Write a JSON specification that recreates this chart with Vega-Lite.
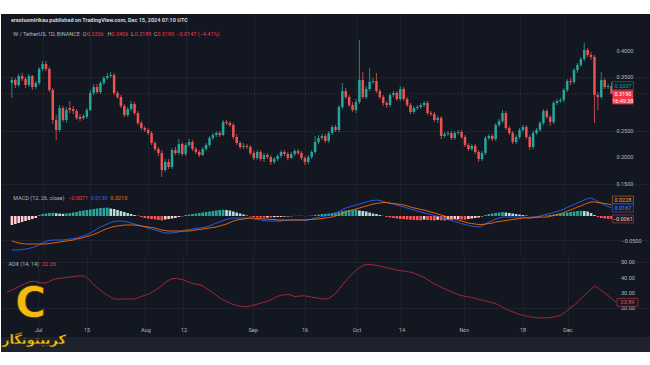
{
"$schema":"https://vega.github.io/schema/vega-lite/v6.json",
"background":"#ffffff",
"padding":{"left":0,"right":0,"top":14,"bottom":13},
"spacing":0,
"bounds":"flush",
"config":{"view":{"stroke":null,"fill":"#131722"},"axis":{"labelFont":"Roboto","labelFontSize":5.5,"labelColor":"#b2b5be","gridColor":"#1e222d","domain":false,"ticks":false,"labelOverlap":false},"text":{"font":"Roboto","fontSize":5.5,"baseline":"middle","align":"left"}},
"datasets":{"k":[
{"d":"2024-06-22","o":0.3393,"h":0.3506,"l":0.3111,"c":0.3449,"m":-0.0708,"s":-0.0521,"g":-0.0188,"t":"nu","a":30.5},
{"d":"2024-06-23","o":0.3449,"h":0.3487,"l":0.3299,"c":0.3355,"m":-0.0708,"s":-0.0542,"g":-0.0167,"t":"nu","a":31.5},
{"d":"2024-06-24","o":0.3355,"h":0.3562,"l":0.3318,"c":0.3524,"m":-0.0708,"s":-0.0563,"g":-0.0146,"t":"nu","a":32.5},
{"d":"2024-06-25","o":0.3524,"h":0.3581,"l":0.3430,"c":0.3468,"m":-0.0698,"s":-0.0573,"g":-0.0125,"t":"nu","a":33.7},
{"d":"2024-06-26","o":0.3468,"h":0.3506,"l":0.3299,"c":0.3355,"m":-0.0688,"s":-0.0583,"g":-0.0104,"t":"nu","a":34.8},
{"d":"2024-06-27","o":0.3355,"h":0.3562,"l":0.3318,"c":0.3524,"m":-0.0677,"s":-0.0583,"g":-0.0083,"t":"nu","a":35.8},
{"d":"2024-06-28","o":0.3524,"h":0.3543,"l":0.3261,"c":0.3318,"m":-0.0656,"s":-0.0583,"g":-0.0063,"t":"nu","a":36.8},
{"d":"2024-06-29","o":0.3318,"h":0.3430,"l":0.3280,"c":0.3393,"m":-0.0635,"s":-0.0583,"g":-0.0042,"t":"nu","a":37.6},
{"d":"2024-06-30","o":0.3393,"h":0.3694,"l":0.3355,"c":0.3656,"m":-0.0604,"s":-0.0583,"g":0.0021,"t":"pu","a":37.5},
{"d":"2024-07-01","o":0.3656,"h":0.3806,"l":0.3618,"c":0.3750,"m":-0.0563,"s":-0.0583,"g":0.0042,"t":"pu","a":37.0},
{"d":"2024-07-02","o":0.3750,"h":0.3806,"l":0.3618,"c":0.3656,"m":-0.0531,"s":-0.0583,"g":0.0052,"t":"pu","a":36.5},
{"d":"2024-07-03","o":0.3656,"h":0.3694,"l":0.3224,"c":0.3261,"m":-0.0510,"s":-0.0573,"g":0.0063,"t":"pu","a":36.4},
{"d":"2024-07-04","o":0.3261,"h":0.3299,"l":0.2622,"c":0.2697,"m":-0.0500,"s":-0.0563,"g":0.0067,"t":"pu","a":37.2},
{"d":"2024-07-05","o":0.2697,"h":0.2791,"l":0.2321,"c":0.2509,"m":-0.0500,"s":-0.0552,"g":0.0058,"t":"pd","a":38.4},
{"d":"2024-07-06","o":0.2509,"h":0.2979,"l":0.2472,"c":0.2923,"m":-0.0500,"s":-0.0542,"g":0.0050,"t":"pd","a":39.2},
{"d":"2024-07-07","o":0.2923,"h":0.2960,"l":0.2660,"c":0.2697,"m":-0.0500,"s":-0.0531,"g":0.0046,"t":"pd","a":39.5},
{"d":"2024-07-08","o":0.2697,"h":0.2942,"l":0.2641,"c":0.2885,"m":-0.0490,"s":-0.0521,"g":0.0054,"t":"pu","a":39.8},
{"d":"2024-07-09","o":0.2923,"h":0.3054,"l":0.2829,"c":0.2885,"m":-0.0479,"s":-0.0510,"g":0.0063,"t":"pu","a":40.1},
{"d":"2024-07-10","o":0.2904,"h":0.2960,"l":0.2810,"c":0.2866,"m":-0.0469,"s":-0.0500,"g":0.0073,"t":"pu","a":40.3},
{"d":"2024-07-11","o":0.2866,"h":0.2904,"l":0.2697,"c":0.2735,"m":-0.0458,"s":-0.0479,"g":0.0083,"t":"pu","a":40.6},
{"d":"2024-07-12","o":0.2754,"h":0.2810,"l":0.2678,"c":0.2716,"m":-0.0438,"s":-0.0469,"g":0.0104,"t":"pu","a":40.9},
{"d":"2024-07-13","o":0.2735,"h":0.2810,"l":0.2697,"c":0.2772,"m":-0.0417,"s":-0.0448,"g":0.0115,"t":"pu","a":41.1},
{"d":"2024-07-14","o":0.2754,"h":0.2923,"l":0.2716,"c":0.2885,"m":-0.0385,"s":-0.0427,"g":0.0125,"t":"pu","a":41.1},
{"d":"2024-07-15","o":0.2885,"h":0.3261,"l":0.2866,"c":0.3205,"m":-0.0354,"s":-0.0406,"g":0.0135,"t":"pu","a":40.2},
{"d":"2024-07-16","o":0.3205,"h":0.3374,"l":0.3167,"c":0.3318,"m":-0.0313,"s":-0.0385,"g":0.0146,"t":"pu","a":38.0},
{"d":"2024-07-17","o":0.3318,"h":0.3374,"l":0.3186,"c":0.3224,"m":-0.0271,"s":-0.0354,"g":0.0156,"t":"pu","a":35.8},
{"d":"2024-07-18","o":0.3224,"h":0.3430,"l":0.3186,"c":0.3393,"m":-0.0229,"s":-0.0323,"g":0.0167,"t":"pu","a":33.5},
{"d":"2024-07-19","o":0.3393,"h":0.3524,"l":0.3355,"c":0.3487,"m":-0.0198,"s":-0.0292,"g":0.0171,"t":"pu","a":31.8},
{"d":"2024-07-20","o":0.3487,"h":0.3581,"l":0.3449,"c":0.3524,"m":-0.0167,"s":-0.0260,"g":0.0175,"t":"pu","a":30.1},
{"d":"2024-07-21","o":0.3524,"h":0.3600,"l":0.3487,"c":0.3543,"m":-0.0135,"s":-0.0240,"g":0.0156,"t":"pd","a":28.6},
{"d":"2024-07-22","o":0.3543,"h":0.3581,"l":0.3167,"c":0.3205,"m":-0.0115,"s":-0.0219,"g":0.0146,"t":"pd","a":27.2},
{"d":"2024-07-23","o":0.3205,"h":0.3242,"l":0.3092,"c":0.3130,"m":-0.0104,"s":-0.0208,"g":0.0125,"t":"pd","a":26.0},
{"d":"2024-07-24","o":0.3130,"h":0.3167,"l":0.2923,"c":0.2960,"m":-0.0104,"s":-0.0198,"g":0.0104,"t":"pd","a":25.9},
{"d":"2024-07-25","o":0.2960,"h":0.2998,"l":0.2754,"c":0.2791,"m":-0.0115,"s":-0.0188,"g":0.0083,"t":"pd","a":26.0},
{"d":"2024-07-26","o":0.2791,"h":0.2942,"l":0.2754,"c":0.2904,"m":-0.0125,"s":-0.0188,"g":0.0063,"t":"pd","a":26.1},
{"d":"2024-07-27","o":0.2904,"h":0.3054,"l":0.2866,"c":0.2998,"m":-0.0146,"s":-0.0188,"g":0.0042,"t":"pd","a":26.1},
{"d":"2024-07-28","o":0.2998,"h":0.3036,"l":0.2791,"c":0.2829,"m":-0.0167,"s":-0.0188,"g":0.0021,"t":"pd","a":26.0},
{"d":"2024-07-29","o":0.2829,"h":0.2866,"l":0.2603,"c":0.2641,"m":-0.0188,"s":-0.0198,"g":0.0006,"t":"pd","a":26.2},
{"d":"2024-07-30","o":0.2641,"h":0.2678,"l":0.2509,"c":0.2547,"m":-0.0208,"s":-0.0208,"g":-0.0021,"t":"nd","a":27.0},
{"d":"2024-07-31","o":0.2547,"h":0.2585,"l":0.2472,"c":0.2509,"m":-0.0229,"s":-0.0219,"g":-0.0042,"t":"nd","a":27.8},
{"d":"2024-08-01","o":0.2509,"h":0.2547,"l":0.2415,"c":0.2453,"m":-0.0250,"s":-0.0229,"g":-0.0052,"t":"nd","a":28.6},
{"d":"2024-08-02","o":0.2453,"h":0.2491,"l":0.2227,"c":0.2265,"m":-0.0271,"s":-0.0240,"g":-0.0063,"t":"nd","a":29.3},
{"d":"2024-08-03","o":0.2265,"h":0.2303,"l":0.2115,"c":0.2152,"m":-0.0292,"s":-0.0250,"g":-0.0073,"t":"nd","a":30.6},
{"d":"2024-08-04","o":0.2152,"h":0.2190,"l":0.2021,"c":0.2077,"m":-0.0313,"s":-0.0271,"g":-0.0083,"t":"nd","a":32.0},
{"d":"2024-08-05","o":0.2077,"h":0.2133,"l":0.1626,"c":0.1757,"m":-0.0333,"s":-0.0292,"g":-0.0090,"t":"nd","a":33.4},
{"d":"2024-08-06","o":0.1757,"h":0.1964,"l":0.1720,"c":0.1908,"m":-0.0354,"s":-0.0302,"g":-0.0073,"t":"nu","a":35.3},
{"d":"2024-08-07","o":0.1908,"h":0.1964,"l":0.1776,"c":0.1814,"m":-0.0354,"s":-0.0313,"g":-0.0063,"t":"nu","a":37.3},
{"d":"2024-08-08","o":0.1814,"h":0.2171,"l":0.1776,"c":0.2133,"m":-0.0354,"s":-0.0313,"g":-0.0052,"t":"nu","a":38.7},
{"d":"2024-08-09","o":0.2133,"h":0.2190,"l":0.2039,"c":0.2077,"m":-0.0344,"s":-0.0313,"g":-0.0042,"t":"nu","a":39.4},
{"d":"2024-08-10","o":0.2077,"h":0.2340,"l":0.2039,"c":0.2246,"m":-0.0333,"s":-0.0313,"g":-0.0021,"t":"nu","a":39.5},
{"d":"2024-08-11","o":0.2246,"h":0.2284,"l":0.2021,"c":0.2058,"m":-0.0313,"s":-0.0313,"g":-0.0006,"t":"nu","a":39.0},
{"d":"2024-08-12","o":0.2058,"h":0.2265,"l":0.2021,"c":0.2227,"m":-0.0292,"s":-0.0313,"g":0.0021,"t":"pu","a":38.5},
{"d":"2024-08-13","o":0.2227,"h":0.2340,"l":0.2190,"c":0.2284,"m":-0.0281,"s":-0.0313,"g":0.0031,"t":"pu","a":37.6},
{"d":"2024-08-14","o":0.2284,"h":0.2321,"l":0.2115,"c":0.2152,"m":-0.0271,"s":-0.0302,"g":0.0042,"t":"pu","a":36.6},
{"d":"2024-08-15","o":0.2152,"h":0.2190,"l":0.2058,"c":0.2096,"m":-0.0260,"s":-0.0292,"g":0.0052,"t":"pu","a":36.0},
{"d":"2024-08-16","o":0.2096,"h":0.2133,"l":0.2002,"c":0.2039,"m":-0.0250,"s":-0.0281,"g":0.0063,"t":"pu","a":35.6},
{"d":"2024-08-17","o":0.2039,"h":0.2190,"l":0.2021,"c":0.2152,"m":-0.0240,"s":-0.0271,"g":0.0073,"t":"pu","a":35.2},
{"d":"2024-08-18","o":0.2152,"h":0.2265,"l":0.2115,"c":0.2227,"m":-0.0229,"s":-0.0260,"g":0.0083,"t":"pu","a":34.0},
{"d":"2024-08-19","o":0.2227,"h":0.2397,"l":0.2190,"c":0.2359,"m":-0.0208,"s":-0.0250,"g":0.0094,"t":"pu","a":32.4},
{"d":"2024-08-20","o":0.2359,"h":0.2453,"l":0.2321,"c":0.2415,"m":-0.0177,"s":-0.0240,"g":0.0104,"t":"pu","a":31.0},
{"d":"2024-08-21","o":0.2415,"h":0.2491,"l":0.2378,"c":0.2453,"m":-0.0146,"s":-0.0229,"g":0.0115,"t":"pu","a":29.3},
{"d":"2024-08-22","o":0.2453,"h":0.2491,"l":0.2378,"c":0.2415,"m":-0.0125,"s":-0.0208,"g":0.0125,"t":"pu","a":27.6},
{"d":"2024-08-23","o":0.2415,"h":0.2697,"l":0.2397,"c":0.2660,"m":-0.0094,"s":-0.0188,"g":0.0131,"t":"pu","a":26.1},
{"d":"2024-08-24","o":0.2660,"h":0.2697,"l":0.2603,"c":0.2641,"m":-0.0073,"s":-0.0167,"g":0.0125,"t":"pd","a":25.0},
{"d":"2024-08-25","o":0.2641,"h":0.2678,"l":0.2566,"c":0.2603,"m":-0.0052,"s":-0.0135,"g":0.0115,"t":"pd","a":23.9},
{"d":"2024-08-26","o":0.2603,"h":0.2641,"l":0.2340,"c":0.2378,"m":-0.0042,"s":-0.0104,"g":0.0094,"t":"pd","a":22.8},
{"d":"2024-08-27","o":0.2378,"h":0.2434,"l":0.2227,"c":0.2265,"m":-0.0042,"s":-0.0083,"g":0.0073,"t":"pd","a":22.1},
{"d":"2024-08-28","o":0.2265,"h":0.2303,"l":0.2152,"c":0.2190,"m":-0.0042,"s":-0.0073,"g":0.0052,"t":"pd","a":21.6},
{"d":"2024-08-29","o":0.2190,"h":0.2265,"l":0.2152,"c":0.2209,"m":-0.0042,"s":-0.0063,"g":0.0031,"t":"pd","a":21.2},
{"d":"2024-08-30","o":0.2209,"h":0.2246,"l":0.2152,"c":0.2190,"m":-0.0042,"s":-0.0052,"g":0.0010,"t":"pd","a":21.0},
{"d":"2024-08-31","o":0.2190,"h":0.2227,"l":0.2039,"c":0.2077,"m":-0.0052,"s":-0.0042,"g":-0.0010,"t":"nd","a":21.4},
{"d":"2024-09-01","o":0.2077,"h":0.2115,"l":0.1945,"c":0.1983,"m":-0.0063,"s":-0.0042,"g":-0.0021,"t":"nd","a":22.0},
{"d":"2024-09-02","o":0.1983,"h":0.2133,"l":0.1945,"c":0.2096,"m":-0.0073,"s":-0.0052,"g":-0.0031,"t":"nd","a":22.5},
{"d":"2024-09-03","o":0.2096,"h":0.2133,"l":0.1927,"c":0.1964,"m":-0.0083,"s":-0.0052,"g":-0.0033,"t":"nd","a":23.1},
{"d":"2024-09-04","o":0.1964,"h":0.2077,"l":0.1908,"c":0.2039,"m":-0.0094,"s":-0.0063,"g":-0.0035,"t":"nd","a":23.8},
{"d":"2024-09-05","o":0.2039,"h":0.2077,"l":0.1964,"c":0.2002,"m":-0.0104,"s":-0.0063,"g":-0.0031,"t":"nu","a":24.4},
{"d":"2024-09-06","o":0.2002,"h":0.2039,"l":0.1851,"c":0.1908,"m":-0.0104,"s":-0.0073,"g":-0.0033,"t":"nd","a":25.2},
{"d":"2024-09-07","o":0.1908,"h":0.2002,"l":0.1870,"c":0.1964,"m":-0.0104,"s":-0.0073,"g":-0.0025,"t":"nu","a":26.4},
{"d":"2024-09-08","o":0.1964,"h":0.2058,"l":0.1927,"c":0.2021,"m":-0.0104,"s":-0.0083,"g":-0.0021,"t":"nu","a":27.6},
{"d":"2024-09-09","o":0.2021,"h":0.2133,"l":0.1983,"c":0.2096,"m":-0.0104,"s":-0.0083,"g":-0.0019,"t":"nu","a":28.4},
{"d":"2024-09-10","o":0.2096,"h":0.2133,"l":0.2021,"c":0.2058,"m":-0.0094,"s":-0.0083,"g":-0.0013,"t":"nu","a":28.7},
{"d":"2024-09-11","o":0.2058,"h":0.2096,"l":0.1945,"c":0.1983,"m":-0.0094,"s":-0.0083,"g":-0.0010,"t":"nu","a":29.0},
{"d":"2024-09-12","o":0.1983,"h":0.2096,"l":0.1964,"c":0.2058,"m":-0.0083,"s":-0.0083,"g":-0.0006,"t":"nu","a":28.8},
{"d":"2024-09-13","o":0.2058,"h":0.2152,"l":0.2021,"c":0.2115,"m":-0.0083,"s":-0.0083,"g":0.0004,"t":"pu","a":27.7},
{"d":"2024-09-14","o":0.2115,"h":0.2152,"l":0.2039,"c":0.2077,"m":-0.0083,"s":-0.0083,"g":0.0006,"t":"pu","a":27.8},
{"d":"2024-09-15","o":0.2077,"h":0.2115,"l":0.1945,"c":0.1983,"m":-0.0083,"s":-0.0083,"g":0.0004,"t":"pd","a":28.1},
{"d":"2024-09-16","o":0.1983,"h":0.2021,"l":0.1851,"c":0.1908,"m":-0.0094,"s":-0.0083,"g":-0.0004,"t":"nd","a":28.1},
{"d":"2024-09-17","o":0.1908,"h":0.2039,"l":0.1870,"c":0.2002,"m":-0.0083,"s":-0.0073,"g":0.0004,"t":"pu","a":27.8},
{"d":"2024-09-18","o":0.2002,"h":0.2133,"l":0.1964,"c":0.2096,"m":-0.0063,"s":-0.0073,"g":0.0010,"t":"pu","a":27.3},
{"d":"2024-09-19","o":0.2096,"h":0.2397,"l":0.2058,"c":0.2284,"m":-0.0042,"s":-0.0063,"g":0.0021,"t":"pu","a":26.9},
{"d":"2024-09-20","o":0.2284,"h":0.2415,"l":0.2246,"c":0.2359,"m":-0.0031,"s":-0.0063,"g":0.0031,"t":"pu","a":26.6},
{"d":"2024-09-21","o":0.2359,"h":0.2434,"l":0.2321,"c":0.2397,"m":-0.0010,"s":-0.0052,"g":0.0042,"t":"pu","a":26.2},
{"d":"2024-09-22","o":0.2397,"h":0.2434,"l":0.2265,"c":0.2303,"m":0.0000,"s":-0.0042,"g":0.0046,"t":"pu","a":26.0},
{"d":"2024-09-23","o":0.2303,"h":0.2491,"l":0.2265,"c":0.2453,"m":0.0021,"s":-0.0031,"g":0.0052,"t":"pu","a":26.5},
{"d":"2024-09-24","o":0.2453,"h":0.2603,"l":0.2415,"c":0.2566,"m":0.0042,"s":-0.0021,"g":0.0063,"t":"pu","a":28.0},
{"d":"2024-09-25","o":0.2566,"h":0.2603,"l":0.2472,"c":0.2509,"m":0.0063,"s":0.0000,"g":0.0073,"t":"pu","a":29.8},
{"d":"2024-09-26","o":0.2509,"h":0.2979,"l":0.2472,"c":0.2942,"m":0.0094,"s":0.0021,"g":0.0083,"t":"pu","a":32.5},
{"d":"2024-09-27","o":0.2942,"h":0.3393,"l":0.2904,"c":0.3242,"m":0.0135,"s":0.0052,"g":0.0104,"t":"pu","a":35.5},
{"d":"2024-09-28","o":0.3242,"h":0.3299,"l":0.3092,"c":0.3130,"m":0.0167,"s":0.0083,"g":0.0115,"t":"pu","a":38.0},
{"d":"2024-09-29","o":0.3130,"h":0.3167,"l":0.2942,"c":0.2979,"m":0.0188,"s":0.0104,"g":0.0125,"t":"pu","a":40.5},
{"d":"2024-09-30","o":0.2979,"h":0.3036,"l":0.2848,"c":0.2885,"m":0.0208,"s":0.0125,"g":0.0129,"t":"pu","a":43.0},
{"d":"2024-10-01","o":0.2885,"h":0.3092,"l":0.2829,"c":0.3036,"m":0.0229,"s":0.0146,"g":0.0133,"t":"pu","a":45.0},
{"d":"2024-10-02","o":0.3036,"h":0.4201,"l":0.2998,"c":0.3449,"m":0.0250,"s":0.0167,"g":0.0115,"t":"pd","a":46.7},
{"d":"2024-10-03","o":0.3449,"h":0.3600,"l":0.3092,"c":0.3130,"m":0.0271,"s":0.0188,"g":0.0104,"t":"pd","a":48.0},
{"d":"2024-10-04","o":0.3130,"h":0.3336,"l":0.3092,"c":0.3280,"m":0.0292,"s":0.0208,"g":0.0094,"t":"pd","a":48.7},
{"d":"2024-10-05","o":0.3280,"h":0.3675,"l":0.3242,"c":0.3412,"m":0.0313,"s":0.0229,"g":0.0073,"t":"pd","a":48.6},
{"d":"2024-10-06","o":0.3412,"h":0.3487,"l":0.3374,"c":0.3430,"m":0.0323,"s":0.0250,"g":0.0052,"t":"pd","a":48.3},
{"d":"2024-10-07","o":0.3430,"h":0.3581,"l":0.3205,"c":0.3242,"m":0.0333,"s":0.0260,"g":0.0042,"t":"pd","a":47.9},
{"d":"2024-10-08","o":0.3242,"h":0.3280,"l":0.3092,"c":0.3130,"m":0.0323,"s":0.0271,"g":0.0021,"t":"pd","a":47.4},
{"d":"2024-10-09","o":0.3130,"h":0.3167,"l":0.2960,"c":0.3017,"m":0.0302,"s":0.0281,"g":0.0004,"t":"pd","a":46.9},
{"d":"2024-10-10","o":0.3017,"h":0.3054,"l":0.2923,"c":0.2979,"m":0.0281,"s":0.0281,"g":-0.0021,"t":"nd","a":46.4},
{"d":"2024-10-11","o":0.2979,"h":0.3205,"l":0.2942,"c":0.3167,"m":0.0260,"s":0.0271,"g":-0.0031,"t":"nd","a":45.9},
{"d":"2024-10-12","o":0.3167,"h":0.3242,"l":0.3130,"c":0.3205,"m":0.0250,"s":0.0260,"g":-0.0042,"t":"nd","a":45.3},
{"d":"2024-10-13","o":0.3205,"h":0.3242,"l":0.3054,"c":0.3092,"m":0.0229,"s":0.0250,"g":-0.0052,"t":"nd","a":44.8},
{"d":"2024-10-14","o":0.3092,"h":0.3336,"l":0.3054,"c":0.3280,"m":0.0208,"s":0.0240,"g":-0.0063,"t":"nd","a":44.5},
{"d":"2024-10-15","o":0.3280,"h":0.3318,"l":0.3054,"c":0.3092,"m":0.0188,"s":0.0229,"g":-0.0067,"t":"nd","a":44.2},
{"d":"2024-10-16","o":0.3092,"h":0.3130,"l":0.2942,"c":0.2979,"m":0.0167,"s":0.0208,"g":-0.0073,"t":"nd","a":43.8},
{"d":"2024-10-17","o":0.2979,"h":0.3017,"l":0.2810,"c":0.2848,"m":0.0146,"s":0.0188,"g":-0.0077,"t":"nd","a":43.4},
{"d":"2024-10-18","o":0.2848,"h":0.2960,"l":0.2810,"c":0.2923,"m":0.0125,"s":0.0167,"g":-0.0083,"t":"nd","a":42.6},
{"d":"2024-10-19","o":0.2923,"h":0.2979,"l":0.2885,"c":0.2942,"m":0.0104,"s":0.0156,"g":-0.0085,"t":"nd","a":41.6},
{"d":"2024-10-20","o":0.2942,"h":0.3017,"l":0.2904,"c":0.2979,"m":0.0083,"s":0.0135,"g":-0.0088,"t":"nd","a":40.7},
{"d":"2024-10-21","o":0.2979,"h":0.3054,"l":0.2942,"c":0.3017,"m":0.0063,"s":0.0125,"g":-0.0075,"t":"nu","a":39.5},
{"d":"2024-10-22","o":0.3017,"h":0.3054,"l":0.2791,"c":0.2829,"m":0.0052,"s":0.0104,"g":-0.0083,"t":"nd","a":38.0},
{"d":"2024-10-23","o":0.2829,"h":0.2866,"l":0.2772,"c":0.2810,"m":0.0031,"s":0.0083,"g":-0.0088,"t":"nd","a":36.6},
{"d":"2024-10-24","o":0.2810,"h":0.2848,"l":0.2660,"c":0.2697,"m":0.0010,"s":0.0063,"g":-0.0092,"t":"nd","a":35.4},
{"d":"2024-10-25","o":0.2697,"h":0.2772,"l":0.2641,"c":0.2735,"m":-0.0010,"s":0.0042,"g":-0.0079,"t":"nu","a":34.3},
{"d":"2024-10-26","o":0.2735,"h":0.2772,"l":0.2340,"c":0.2397,"m":-0.0031,"s":0.0021,"g":-0.0090,"t":"nd","a":33.2},
{"d":"2024-10-27","o":0.2397,"h":0.2472,"l":0.2359,"c":0.2434,"m":-0.0052,"s":0.0000,"g":-0.0094,"t":"nd","a":32.2},
{"d":"2024-10-28","o":0.2434,"h":0.2491,"l":0.2397,"c":0.2453,"m":-0.0073,"s":-0.0021,"g":-0.0079,"t":"nu","a":31.2},
{"d":"2024-10-29","o":0.2453,"h":0.2491,"l":0.2321,"c":0.2359,"m":-0.0094,"s":-0.0042,"g":-0.0073,"t":"nu","a":30.2},
{"d":"2024-10-30","o":0.2359,"h":0.2491,"l":0.2321,"c":0.2453,"m":-0.0115,"s":-0.0063,"g":-0.0065,"t":"nu","a":29.3},
{"d":"2024-10-31","o":0.2453,"h":0.2509,"l":0.2415,"c":0.2472,"m":-0.0135,"s":-0.0083,"g":-0.0063,"t":"nu","a":28.5},
{"d":"2024-11-01","o":0.2472,"h":0.2509,"l":0.2340,"c":0.2378,"m":-0.0156,"s":-0.0104,"g":-0.0073,"t":"nd","a":28.0},
{"d":"2024-11-02","o":0.2378,"h":0.2415,"l":0.2190,"c":0.2227,"m":-0.0177,"s":-0.0125,"g":-0.0077,"t":"nd","a":27.6},
{"d":"2024-11-03","o":0.2227,"h":0.2265,"l":0.2115,"c":0.2152,"m":-0.0198,"s":-0.0146,"g":-0.0063,"t":"nu","a":27.2},
{"d":"2024-11-04","o":0.2152,"h":0.2246,"l":0.2115,"c":0.2209,"m":-0.0208,"s":-0.0156,"g":-0.0052,"t":"nu","a":26.7},
{"d":"2024-11-05","o":0.2209,"h":0.2246,"l":0.2058,"c":0.2096,"m":-0.0219,"s":-0.0167,"g":-0.0042,"t":"nu","a":26.0},
{"d":"2024-11-06","o":0.2096,"h":0.2133,"l":0.1908,"c":0.1964,"m":-0.0229,"s":-0.0177,"g":-0.0031,"t":"nu","a":25.5},
{"d":"2024-11-07","o":0.1964,"h":0.2115,"l":0.1927,"c":0.2077,"m":-0.0208,"s":-0.0177,"g":-0.0010,"t":"nu","a":25.0},
{"d":"2024-11-08","o":0.2077,"h":0.2397,"l":0.2039,"c":0.2359,"m":-0.0167,"s":-0.0167,"g":0.0021,"t":"pu","a":24.4},
{"d":"2024-11-09","o":0.2359,"h":0.2434,"l":0.2321,"c":0.2397,"m":-0.0125,"s":-0.0156,"g":0.0042,"t":"pu","a":23.8},
{"d":"2024-11-10","o":0.2397,"h":0.2434,"l":0.2303,"c":0.2340,"m":-0.0094,"s":-0.0146,"g":0.0052,"t":"pu","a":23.2},
{"d":"2024-11-11","o":0.2340,"h":0.2641,"l":0.2303,"c":0.2603,"m":-0.0063,"s":-0.0125,"g":0.0063,"t":"pu","a":22.3},
{"d":"2024-11-12","o":0.2603,"h":0.2716,"l":0.2566,"c":0.2678,"m":-0.0042,"s":-0.0115,"g":0.0073,"t":"pu","a":21.0},
{"d":"2024-11-13","o":0.2678,"h":0.2885,"l":0.2641,"c":0.2829,"m":-0.0021,"s":-0.0104,"g":0.0083,"t":"pu","a":19.8},
{"d":"2024-11-14","o":0.2829,"h":0.2866,"l":0.2509,"c":0.2547,"m":-0.0021,"s":-0.0094,"g":0.0073,"t":"pd","a":18.7},
{"d":"2024-11-15","o":0.2547,"h":0.2585,"l":0.2415,"c":0.2453,"m":-0.0021,"s":-0.0083,"g":0.0063,"t":"pd","a":17.8},
{"d":"2024-11-16","o":0.2453,"h":0.2491,"l":0.2246,"c":0.2284,"m":-0.0021,"s":-0.0073,"g":0.0052,"t":"pd","a":16.9},
{"d":"2024-11-17","o":0.2284,"h":0.2415,"l":0.2246,"c":0.2378,"m":-0.0021,"s":-0.0063,"g":0.0042,"t":"pd","a":16.1},
{"d":"2024-11-18","o":0.2378,"h":0.2547,"l":0.2340,"c":0.2509,"m":-0.0021,"s":-0.0052,"g":0.0031,"t":"pd","a":15.5},
{"d":"2024-11-19","o":0.2509,"h":0.2603,"l":0.2472,"c":0.2566,"m":-0.0021,"s":-0.0042,"g":0.0021,"t":"pd","a":15.0},
{"d":"2024-11-20","o":0.2566,"h":0.2603,"l":0.2340,"c":0.2378,"m":-0.0031,"s":-0.0042,"g":0.0010,"t":"pd","a":14.5},
{"d":"2024-11-21","o":0.2378,"h":0.2415,"l":0.2133,"c":0.2190,"m":-0.0042,"s":-0.0042,"g":-0.0004,"t":"nd","a":14.2},
{"d":"2024-11-22","o":0.2190,"h":0.2491,"l":0.2152,"c":0.2453,"m":-0.0031,"s":-0.0031,"g":-0.0010,"t":"nd","a":13.9},
{"d":"2024-11-23","o":0.2453,"h":0.2547,"l":0.2415,"c":0.2509,"m":-0.0021,"s":-0.0031,"g":-0.0013,"t":"nd","a":13.7},
{"d":"2024-11-24","o":0.2509,"h":0.2678,"l":0.2472,"c":0.2641,"m":0.0000,"s":-0.0021,"g":-0.0006,"t":"nu","a":13.7},
{"d":"2024-11-25","o":0.2641,"h":0.2904,"l":0.2603,"c":0.2866,"m":0.0021,"s":-0.0021,"g":0.0006,"t":"pu","a":13.8},
{"d":"2024-11-26","o":0.2866,"h":0.2904,"l":0.2716,"c":0.2754,"m":0.0042,"s":-0.0021,"g":0.0013,"t":"pu","a":14.0},
{"d":"2024-11-27","o":0.2754,"h":0.2791,"l":0.2585,"c":0.2660,"m":0.0052,"s":-0.0010,"g":0.0021,"t":"pu","a":14.3},
{"d":"2024-11-28","o":0.2660,"h":0.3054,"l":0.2622,"c":0.3017,"m":0.0073,"s":0.0010,"g":0.0031,"t":"pu","a":14.7},
{"d":"2024-11-29","o":0.3017,"h":0.3092,"l":0.2979,"c":0.3054,"m":0.0094,"s":0.0031,"g":0.0042,"t":"pu","a":15.4},
{"d":"2024-11-30","o":0.3054,"h":0.3111,"l":0.3017,"c":0.3073,"m":0.0115,"s":0.0052,"g":0.0052,"t":"pu","a":17.0},
{"d":"2024-12-01","o":0.3073,"h":0.3299,"l":0.3036,"c":0.3261,"m":0.0146,"s":0.0073,"g":0.0063,"t":"pu","a":18.8},
{"d":"2024-12-02","o":0.3261,"h":0.3468,"l":0.3224,"c":0.3430,"m":0.0177,"s":0.0104,"g":0.0073,"t":"pu","a":20.6},
{"d":"2024-12-03","o":0.3430,"h":0.3487,"l":0.3355,"c":0.3412,"m":0.0208,"s":0.0125,"g":0.0083,"t":"pu","a":22.2},
{"d":"2024-12-04","o":0.3412,"h":0.3675,"l":0.3374,"c":0.3637,"m":0.0240,"s":0.0156,"g":0.0094,"t":"pu","a":24.3},
{"d":"2024-12-05","o":0.3637,"h":0.3769,"l":0.3581,"c":0.3731,"m":0.0271,"s":0.0188,"g":0.0104,"t":"pu","a":26.6},
{"d":"2024-12-06","o":0.3731,"h":0.3882,"l":0.3694,"c":0.3844,"m":0.0302,"s":0.0208,"g":0.0108,"t":"pu","a":28.8},
{"d":"2024-12-07","o":0.3844,"h":0.4145,"l":0.3806,"c":0.4013,"m":0.0333,"s":0.0240,"g":0.0104,"t":"pd","a":30.9},
{"d":"2024-12-08","o":0.4013,"h":0.4051,"l":0.3882,"c":0.3919,"m":0.0365,"s":0.0271,"g":0.0094,"t":"pd","a":33.0},
{"d":"2024-12-09","o":0.3919,"h":0.3976,"l":0.3825,"c":0.3882,"m":0.0375,"s":0.0292,"g":0.0063,"t":"pd","a":34.5},
{"d":"2024-12-10","o":0.3882,"h":0.3919,"l":0.2641,"c":0.3167,"m":0.0344,"s":0.0292,"g":0.0021,"t":"pd","a":33.0},
{"d":"2024-12-11","o":0.3167,"h":0.3224,"l":0.2885,"c":0.3130,"m":0.0302,"s":0.0281,"g":-0.0021,"t":"nd","a":31.2},
{"d":"2024-12-12","o":0.3130,"h":0.3600,"l":0.3092,"c":0.3449,"m":0.0271,"s":0.0271,"g":-0.0042,"t":"nd","a":29.6},
{"d":"2024-12-13","o":0.3449,"h":0.3487,"l":0.3280,"c":0.3318,"m":0.0229,"s":0.0260,"g":-0.0052,"t":"nd","a":27.8},
{"d":"2024-12-14","o":0.3318,"h":0.3374,"l":0.3280,"c":0.3336,"m":0.0198,"s":0.0250,"g":-0.0058,"t":"nd","a":25.9},
{"d":"2024-12-15","o":0.3336,"h":0.3406,"l":0.3189,"c":0.3190,"m":0.0167,"s":0.0229,"g":-0.0061,"t":"nd","a":23.89}
]},
"vconcat":[
{"width":650,"height":176,"resolve":{"scale":{"color":"independent"}},"layer":[
 {"data":{"name":"k"},"mark":{"type":"rule","strokeWidth":0.8},
  "encoding":{
   "x":{"field":"d","type":"temporal","title":null,"scale":{"type":"utc","domain":[{"year":2024,"month":6,"date":20,"hours":6,"minutes":30,"utc":true},{"year":2024,"month":12,"date":25,"hours":3,"utc":true}]},"axis":{"values":[{"year":2024,"month":7,"date":1,"utc":true},{"year":2024,"month":7,"date":15,"utc":true},{"year":2024,"month":8,"date":1,"utc":true},{"year":2024,"month":8,"date":12,"utc":true},{"year":2024,"month":9,"date":1,"utc":true},{"year":2024,"month":9,"date":16,"utc":true},{"year":2024,"month":10,"date":1,"utc":true},{"year":2024,"month":10,"date":14,"utc":true},{"year":2024,"month":11,"date":1,"utc":true},{"year":2024,"month":11,"date":18,"utc":true},{"year":2024,"month":12,"date":1,"utc":true}],"labels":false,"grid":true,"title":null}},
   "y":{"field":"l","type":"quantitative","title":null,"scale":{"domain":[0.1382,0.469],"zero":false,"nice":false},"axis":{"orient":"right","offset":-32,"values":[0.15,0.2,0.25,0.3,0.35,0.4],"labels":false,"grid":true,"title":null}},
   "y2":{"field":"h"},
   "color":{"condition":{"test":"datum.c >= datum.o","value":"#26a69a"},"value":"#ef5350"}}},
 {"data":{"name":"k"},"mark":{"type":"bar","width":2.5},
  "encoding":{"x":{"field":"d","type":"temporal"},"y":{"field":"o","type":"quantitative"},"y2":{"field":"c"},
   "color":{"condition":{"test":"datum.c >= datum.o","value":"#26a69a"},"value":"#ef5350"}}},
 {"data":{"values":[{"v":0.319}]},"mark":{"type":"rule","color":"#f23645","strokeDash":[1,2],"strokeWidth":0.7,"opacity":0.55},"encoding":{"y":{"field":"v","type":"quantitative"}}},
 {"data":{"values":[
   {"d":"2024-12-16T11:00:00Z","v":0.4,"t":"0.4000"},
   {"d":"2024-12-16T11:00:00Z","v":0.35,"t":"0.3500"},
   {"d":"2024-12-16T11:00:00Z","v":0.25,"t":"0.2500"},
   {"d":"2024-12-16T11:00:00Z","v":0.2,"t":"0.2000"},
   {"d":"2024-12-16T11:00:00Z","v":0.15,"t":"0.1500"}]},
  "mark":{"type":"text","color":"#b2b5be"},
  "encoding":{"x":{"field":"d","type":"temporal"},"y":{"field":"v","type":"quantitative"},"text":{"field":"t"}}},
 {"data":{"values":[{"d":"2024-06-21T17:00:00Z","v":0.4568,"t":"erastusmirikau published on TradingView.com, Dec 15, 2024 07:10 UTC"}]},
  "mark":{"type":"text","fontWeight":"bold","color":"#d1d4dc"},
  "encoding":{"x":{"field":"d","type":"temporal"},"y":{"field":"v","type":"quantitative"},"text":{"field":"t"}}},
 {"data":{"values":[
   {"d":"2024-06-22T10:00:00Z","v":0.4323,"t":"W / TetherUS, 1D, BINANCE","k":"lab"},
   {"d":"2024-07-12T19:30:00Z","v":0.4323,"t":"O","k":"lab"},
   {"d":"2024-07-13T23:20:00Z","v":0.4323,"t":"0.3336","k":"down"},
   {"d":"2024-07-20T00:45:00Z","v":0.4323,"t":"H","k":"lab"},
   {"d":"2024-07-21T04:35:00Z","v":0.4323,"t":"0.3406","k":"down"},
   {"d":"2024-07-26T23:20:00Z","v":0.4323,"t":"L","k":"lab"},
   {"d":"2024-07-27T23:30:00Z","v":0.4323,"t":"0.3189","k":"down"},
   {"d":"2024-08-02T15:00:00Z","v":0.4323,"t":"C","k":"lab"},
   {"d":"2024-08-03T15:10:00Z","v":0.4323,"t":"0.3190","k":"down"},
   {"d":"2024-08-09T06:30:00Z","v":0.4323,"t":"−0.0147 (−4.41%)","k":"down"}]},
  "mark":{"type":"text"},
  "encoding":{"x":{"field":"d","type":"temporal"},"y":{"field":"v","type":"quantitative"},"text":{"field":"t"},
   "color":{"field":"k","type":"nominal","scale":{"domain":["lab","down"],"range":["#b2b5be","#f23645"]},"legend":null}}},
 {"data":{"values":[{"d":"2024-12-18T08:00:00Z","v":0.3342}]},
  "mark":{"type":"point","shape":"M-1,-0.38H1V0.38H-1Z","size":441,"filled":true,"fill":"#131722","stroke":"#1f6f63","strokeWidth":0.8,"opacity":1},
  "encoding":{"x":{"field":"d","type":"temporal"},"y":{"field":"v","type":"quantitative"}}},
 {"data":{"values":[{"d":"2024-12-18T08:00:00Z","v":0.3124}]},
  "mark":{"type":"point","shape":"M-1,-0.667H1V0.667H-1Z","size":441,"filled":true,"fill":"#f23645","strokeWidth":0,"opacity":1},
  "encoding":{"x":{"field":"d","type":"temporal"},"y":{"field":"v","type":"quantitative"}}},
 {"data":{"values":[
   {"d":"2024-12-18T08:00:00Z","v":0.3342,"t":"0.3337","k":"g"},
   {"d":"2024-12-18T08:00:00Z","v":0.3190,"t":"0.3190","k":"w"},
   {"d":"2024-12-18T08:00:00Z","v":0.3060,"t":"16:49:38","k":"w"}]},
  "mark":{"type":"text","align":"center"},
  "encoding":{"x":{"field":"d","type":"temporal"},"y":{"field":"v","type":"quantitative"},"text":{"field":"t"},
   "color":{"field":"k","type":"nominal","scale":{"domain":["g","w"],"range":["#26a69a","#ffffff"]},"legend":null}}}
]},
{"width":650,"height":65,"resolve":{"scale":{"color":"independent","stroke":"independent"}},"layer":[
 {"data":{"name":"k"},"mark":{"type":"bar","width":2.6},
  "encoding":{
   "x":{"field":"d","type":"temporal","title":null,"scale":{"type":"utc","domain":[{"year":2024,"month":6,"date":20,"hours":6,"minutes":30,"utc":true},{"year":2024,"month":12,"date":25,"hours":3,"utc":true}]},"axis":{"values":[{"year":2024,"month":7,"date":1,"utc":true},{"year":2024,"month":7,"date":15,"utc":true},{"year":2024,"month":8,"date":1,"utc":true},{"year":2024,"month":8,"date":12,"utc":true},{"year":2024,"month":9,"date":1,"utc":true},{"year":2024,"month":9,"date":16,"utc":true},{"year":2024,"month":10,"date":1,"utc":true},{"year":2024,"month":10,"date":14,"utc":true},{"year":2024,"month":11,"date":1,"utc":true},{"year":2024,"month":11,"date":18,"utc":true},{"year":2024,"month":12,"date":1,"utc":true}],"labels":false,"grid":true,"title":null}},
   "y":{"field":"g","type":"quantitative","title":null,"scale":{"domain":[-0.08125,0.0542],"zero":false,"nice":false},"axis":{"orient":"right","offset":-32,"values":[-0.05],"format":".4f","grid":true,"labelPadding":2,"labelOverlap":false,"title":null}},
   "y2":{"datum":0},
   "color":{"field":"t","type":"nominal","scale":{"domain":["pu","pd","nd","nu"],"range":["#26a69a","#b2dfdb","#ff5252","#ffcdd2"]},"legend":null}}},
 {"data":{"name":"k"},"mark":{"type":"line","color":"#2962ff","strokeWidth":0.9},
  "encoding":{"x":{"field":"d","type":"temporal"},"y":{"field":"m","type":"quantitative"}}},
 {"data":{"name":"k"},"mark":{"type":"line","color":"#ff6d00","strokeWidth":0.9},
  "encoding":{"x":{"field":"d","type":"temporal"},"y":{"field":"s","type":"quantitative"}}},
 {"data":{"values":[
   {"d":"2024-06-22T10:00:00Z","v":0.0375,"t":"MACD (12, 26, close)","k":"lab"},
   {"d":"2024-07-08T11:15:00Z","v":0.0375,"t":"−0.0071","k":"down"},
   {"d":"2024-07-15T03:00:00Z","v":0.0375,"t":"0.0139","k":"macd"},
   {"d":"2024-07-20T21:40:00Z","v":0.0375,"t":"0.0210","k":"sig"}]},
  "mark":{"type":"text"},
  "encoding":{"x":{"field":"d","type":"temporal"},"y":{"field":"v","type":"quantitative"},"text":{"field":"t"},
   "color":{"field":"k","type":"nominal","scale":{"domain":["lab","down","macd","sig"],"range":["#b2b5be","#f23645","#2962ff","#ff6d00"]},"legend":null}}},
 {"data":{"values":[
   {"d":"2024-12-18T08:00:00Z","v":0.0333,"t":"0.0228","k":"sig"},
   {"d":"2024-12-18T08:00:00Z","v":0.0167,"t":"0.0167","k":"macd"},
   {"d":"2024-12-18T08:00:00Z","v":-0.0061,"t":"−0.0061","k":"neg"}]},
  "mark":{"type":"point","shape":"M-1,-0.38H1V0.38H-1Z","size":441,"filled":true,"fill":"#161a25","strokeWidth":0.8,"opacity":1},
  "encoding":{"x":{"field":"d","type":"temporal"},"y":{"field":"v","type":"quantitative"},
   "stroke":{"field":"k","type":"nominal","scale":{"domain":["sig","macd","neg"],"range":["#b9561a","#2c4fb8","#9c2f3a"]},"legend":null}}},
 {"data":{"values":[
   {"d":"2024-12-18T08:00:00Z","v":0.0333,"t":"0.0228","k":"sig"},
   {"d":"2024-12-18T08:00:00Z","v":0.0167,"t":"0.0167","k":"macd"},
   {"d":"2024-12-18T08:00:00Z","v":-0.0061,"t":"−0.0061","k":"neg"}]},
  "mark":{"type":"text","align":"center"},
  "encoding":{"x":{"field":"d","type":"temporal"},"y":{"field":"v","type":"quantitative"},"text":{"field":"t"},
   "color":{"field":"k","type":"nominal","scale":{"domain":["sig","macd","neg"],"range":["#ff9a3c","#5b8cff","#f7c6cc"]},"legend":null}}}
]},
{"width":650,"height":82,"resolve":{"scale":{"color":"independent"}},"layer":[
 {"data":{"name":"k"},"mark":{"type":"line","color":"#b2283a","strokeWidth":0.9},
  "encoding":{
   "x":{"field":"d","type":"temporal","title":null,"scale":{"type":"utc","domain":[{"year":2024,"month":6,"date":20,"hours":6,"minutes":30,"utc":true},{"year":2024,"month":12,"date":25,"hours":3,"utc":true}]},"axis":{"values":[{"year":2024,"month":7,"date":1,"utc":true},{"year":2024,"month":7,"date":15,"utc":true},{"year":2024,"month":8,"date":1,"utc":true},{"year":2024,"month":8,"date":12,"utc":true},{"year":2024,"month":9,"date":1,"utc":true},{"year":2024,"month":9,"date":16,"utc":true},{"year":2024,"month":10,"date":1,"utc":true},{"year":2024,"month":10,"date":14,"utc":true},{"year":2024,"month":11,"date":1,"utc":true},{"year":2024,"month":11,"date":18,"utc":true},{"year":2024,"month":12,"date":1,"utc":true}],"labels":true,"grid":true,"offset":-11,"labelPadding":1,"labelOverlap":false,"labelFlush":false,"labelExpr":"utcdate(datum.value) == 1 ? utcFormat(datum.value, '%b') : utcFormat(datum.value, '%-d')","title":null}},
   "y":{"field":"a","type":"quantitative","title":null,"scale":{"domain":[1.27,54.77],"zero":false,"nice":false},"axis":{"orient":"right","offset":-32,"values":[20,30,40,50],"labels":false,"grid":true,"title":null}}}},
 {"data":{"values":[
   {"d":"2024-12-16T11:00:00Z","v":50,"t":"50.00"},
   {"d":"2024-12-16T11:00:00Z","v":40,"t":"40.00"},
   {"d":"2024-12-16T11:00:00Z","v":30,"t":"30.00"},
   {"d":"2024-12-16T11:00:00Z","v":20,"t":"20.00"}]},
  "mark":{"type":"text","color":"#b2b5be"},
  "encoding":{"x":{"field":"d","type":"temporal"},"y":{"field":"v","type":"quantitative"},"text":{"field":"t"}}},
 {"data":{"values":[
   {"d":"2024-06-22T10:00:00Z","v":48.7,"t":"ADX (14, 14)","k":"lab"},
   {"d":"2024-07-02T02:45:00Z","v":48.7,"t":"22.26","k":"down"}]},
  "mark":{"type":"text"},
  "encoding":{"x":{"field":"d","type":"temporal"},"y":{"field":"v","type":"quantitative"},"text":{"field":"t"},
   "color":{"field":"k","type":"nominal","scale":{"domain":["lab","down"],"range":["#b2b5be","#f23645"]},"legend":null}}},
 {"data":{"values":[{"d":"2024-12-18T08:00:00Z","v":23.89}]},
  "mark":{"type":"point","shape":"M-1,-0.38H1V0.38H-1Z","size":441,"filled":true,"fill":"#161a25","stroke":"#9c2f3a","strokeWidth":0.8,"opacity":1},
  "encoding":{"x":{"field":"d","type":"temporal"},"y":{"field":"v","type":"quantitative"}}},
 {"data":{"values":[{"d":"2024-12-18T08:00:00Z","v":23.89,"t":"23.89"}]},
  "mark":{"type":"text","align":"center","color":"#e0505c"},
  "encoding":{"x":{"field":"d","type":"temporal"},"y":{"field":"v","type":"quantitative"},"text":{"field":"t"}}},
 {"data":{"values":[{"d":"2024-06-28T20:00:00Z","v":22.5,"t":"C"}]},
  "mark":{"type":"text","align":"center","font":"DejaVu Sans","fontWeight":"bold","fontSize":42,"color":"#f5b90f","stroke":"#3a2a00","strokeWidth":0.6},
  "encoding":{"x":{"field":"d","type":"temporal"},"y":{"field":"v","type":"quantitative"},"text":{"field":"t"}}}
]},
{"width":650,"height":15,"view":{"fill":"#1e222d","stroke":null},"layer":[
 {"data":{"values":[{"d":"2024-06-29T19:00:00Z","v":0.83,"t":"کریپتونگار"}]},
  "mark":{"type":"text","align":"center","font":"DejaVu Sans","fontWeight":"bold","fontSize":13,"color":"#f7c31b","stroke":"#3a2a00","strokeWidth":0.4},
  "encoding":{
   "x":{"field":"d","type":"temporal","scale":{"type":"utc","domain":[{"year":2024,"month":6,"date":20,"hours":6,"minutes":30,"utc":true},{"year":2024,"month":12,"date":25,"hours":3,"utc":true}]},"axis":null},
   "y":{"field":"v","type":"quantitative","scale":{"domain":[0,1]},"axis":null},
   "text":{"field":"t"}}}
]}
]
}
